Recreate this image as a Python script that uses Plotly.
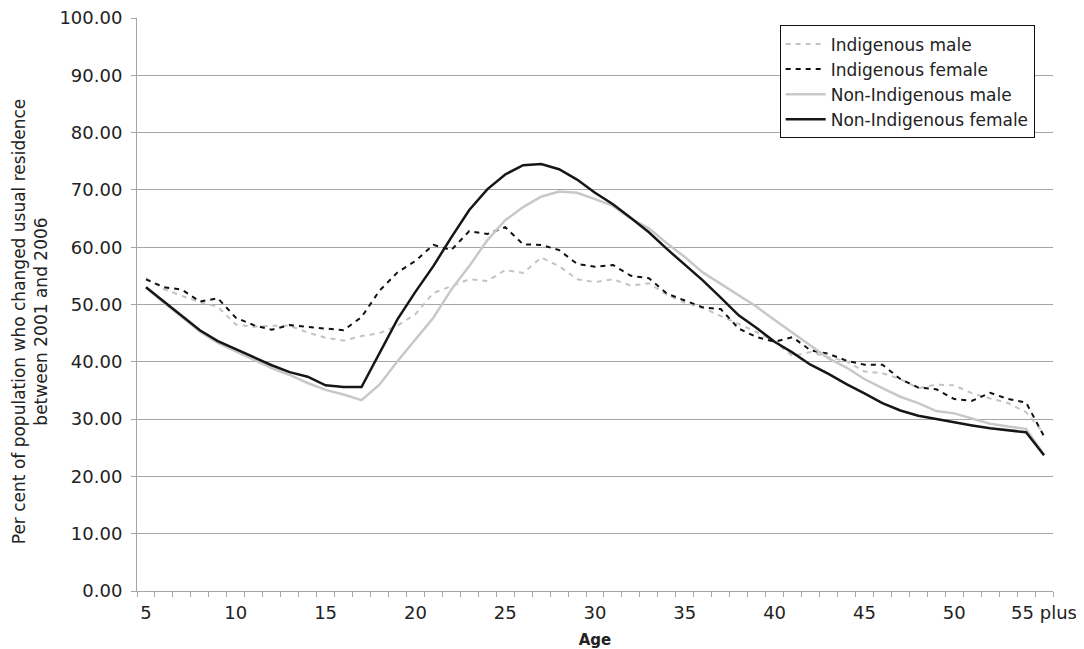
import plotly.graph_objects as go

ages = [str(a) for a in range(5, 55)] + ["55 plus"]

indigenous_male = [54.6, 52.7, 51.5, 50.4, 49.6, 46.5, 46.1, 46.3, 46.3, 45.1,
                   44.2, 43.7, 44.5, 45.0, 46.3, 48.3, 52.0, 53.2, 54.4, 54.1,
                   56.0, 55.5, 58.2, 56.7, 54.4, 53.9, 54.4, 53.3, 53.7, 51.7,
                   50.3, 49.4, 48.0, 46.6, 45.2, 43.5, 41.0, 41.7, 40.8, 40.1,
                   38.3, 38.0, 37.0, 35.4, 36.0, 35.9, 34.5, 33.6, 32.8, 31.2,
                   27.5]
indigenous_female = [54.4, 53.0, 52.6, 50.5, 51.1, 47.7, 46.4, 45.6, 46.4, 46.1,
                     45.8, 45.5, 47.8, 52.4, 55.6, 57.6, 60.4, 59.5, 62.8, 62.3,
                     63.5, 60.5, 60.4, 59.5, 57.1, 56.6, 56.9, 55.0, 54.6, 51.9,
                     50.7, 49.5, 49.2, 45.8, 44.3, 43.5, 44.3, 42.0, 41.4, 40.2,
                     39.5, 39.5, 37.0, 35.5, 35.2, 33.5, 33.2, 34.6, 33.5, 32.9,
                     27.0]
non_indigenous_male = [53.0, 50.3, 47.8, 45.3, 43.3, 41.8, 40.3, 38.9, 37.7, 36.3,
                       35.1, 34.3, 33.3, 36.0, 40.1, 43.8, 47.7, 52.6, 56.7, 61.2,
                       64.7, 67.0, 68.8, 69.7, 69.5, 68.4, 67.2, 65.0, 63.3, 60.7,
                       58.3, 55.6, 53.6, 51.7, 49.6, 47.3, 45.1, 42.9, 40.6, 39.0,
                       37.0, 35.4, 33.9, 32.8, 31.4, 31.0, 30.1, 29.2, 28.7, 28.3,
                       23.8]
non_indigenous_female = [53.0, 50.5, 48.0, 45.5, 43.6, 42.2, 40.8, 39.4, 38.2, 37.4,
                         35.9, 35.6, 35.6, 41.6, 47.4, 52.2, 56.7, 61.7, 66.5, 70.1,
                         72.7, 74.3, 74.5, 73.6, 71.8, 69.5, 67.5, 65.1, 62.6, 59.7,
                         56.9, 54.2, 51.2, 48.1, 45.9, 43.5, 41.6, 39.5, 37.9, 36.1,
                         34.5, 32.8, 31.5, 30.6, 30.0, 29.4, 28.9, 28.4, 28.1, 27.7,
                         23.7]

series_names = ["Indigenous male", "Indigenous female",
                "Non-Indigenous male", "Non-Indigenous female"]

FONT = "DejaVu Sans, sans-serif"
GRID = "#A6A6A6"

fig = go.Figure()
styles = [
    dict(color="#C3C3C3", width=2, dash="5px,5px"),
    dict(color="#111111", width=2, dash="5px,5px"),
    dict(color="#C8C8C8", width=2.5),
    dict(color="#161616", width=2.5),
]
for name, vals, st in zip(series_names,
                          [indigenous_male, indigenous_female,
                           non_indigenous_male, non_indigenous_female],
                          styles):
    fig.add_trace(go.Scatter(x=ages, y=vals, mode="lines", name=name, line=st))

ticktext = [a if (a == "55 plus" or int(a) % 5 == 0) else "" for a in ages]

fig.update_layout(
    width=1076, height=641,
    margin=dict(l=129, r=31, t=10, b=58),
    plot_bgcolor="white", paper_bgcolor="white",
    font=dict(family=FONT, size=16, color="#222222"),
    showlegend=True,
    legend=dict(x=0.98, y=0.987, xanchor="right", yanchor="top",
                bordercolor="#111111", borderwidth=1, bgcolor="white",
                font=dict(size=17, family=FONT), tracegroupgap=0,
                itemwidth=40),
    annotations=[dict(
        text="Per cent of population who changed usual residence<br>between 2001 and 2006",
        xref="paper", yref="paper", x=0, y=0.469, xshift=-107,
        xanchor="center", yanchor="middle", textangle=-90, showarrow=False,
        font=dict(size=17, family=FONT, color="#222222"),
    )],
)
fig.update_xaxes(
    type="category", range=[-0.5, len(ages) - 0.5],
    tickmode="array", tickvals=ages, ticktext=ticktext,
    tickson="boundaries", ticks="outside", ticklen=5, tickcolor=GRID,
    showline=True, linecolor=GRID, linewidth=1, showgrid=False,
    tickangle=0, tickfont=dict(size=18), automargin=False,
    ticklabelstandoff=5,
    title=dict(text="<b>Age</b>", font=dict(size=15), standoff=13),
)
fig.update_yaxes(
    range=[0, 100], dtick=10, tick0=0, tickformat=".2f",
    showgrid=True, gridcolor=GRID, gridwidth=1,
    showline=True, linecolor=GRID, linewidth=1,
    ticks="outside", ticklen=5, tickcolor=GRID, zeroline=False,
    tickfont=dict(size=18), automargin=False, ticklabeloverflow="allow",
    ticklabelstandoff=5,
)

fig.write_html("out.html")
